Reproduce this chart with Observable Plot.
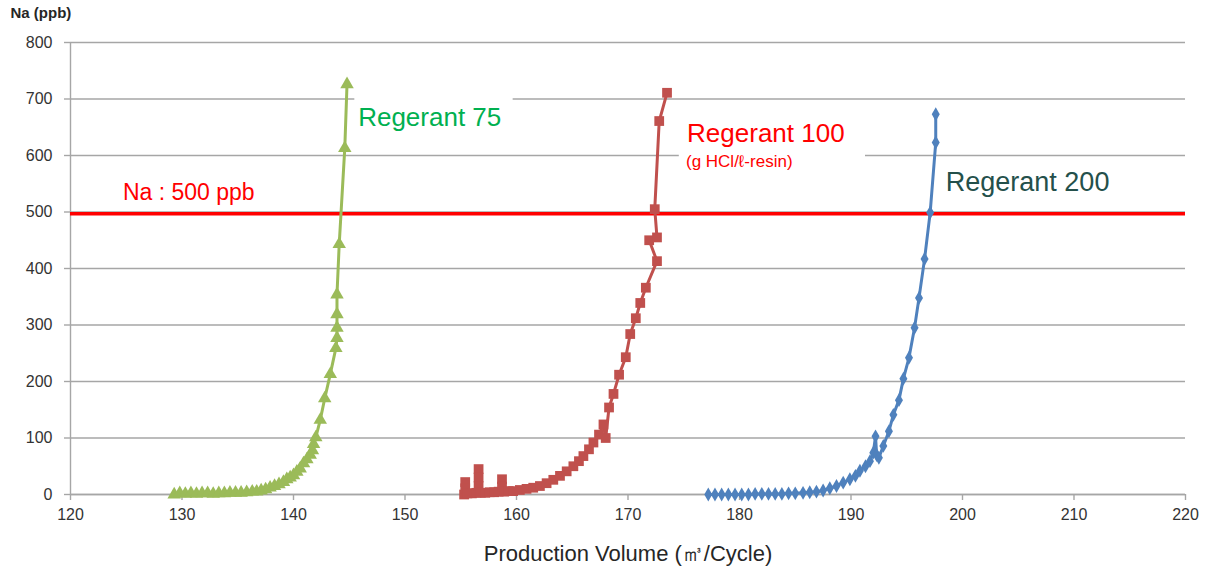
<!DOCTYPE html>
<html><head><meta charset="utf-8">
<script src="https://cdn.jsdelivr.net/npm/d3@7"></script>
<script src="https://cdn.jsdelivr.net/npm/@observablehq/plot@0.6"></script>
<style>html,body{margin:0;padding:0;background:#fff} svg{display:block}</style>
</head><body><div id="chart"></div>
<script>
// Regerant 75 (green, triangles)
const greenX = [129.3,129.8,130.3,130.8,131.3,131.8,132.3,132.8,133.3,133.8,134.3,134.8,135.3,135.8,136.3,136.7,137.1,137.5,137.9,138.3,138.7,139.1,139.4,139.7,140.0,140.3,140.6,140.9,141.2,141.5,141.7,141.8,142.0,142.4,142.8,143.3,143.8,143.9,143.9,143.9,143.9,144.1,144.6,144.8];
const greenY = [0,2,1,2,1,2,2,1,2,2,3,3,3,4,5,5,7,9,12,15,18,22,27,30,34,40,46,55,62,70,78,89,101,132,170,213,259,277,295,319,354,443,613,726];
// Regerant 100 (red, squares)
const redX = [155.3,155.4,155.4,155.6,156.0,156.4,156.6,156.6,156.6,156.8,157.2,157.6,158.0,158.4,158.7,158.7,158.9,159.3,159.7,160.3,160.9,161.5,162.1,162.7,163.3,163.9,164.5,165.1,165.6,166.0,166.5,166.9,167.4,167.8,168.0,168.3,168.7,169.2,169.8,170.2,170.7,171.1,171.6,172.6,171.9,172.6,172.4,172.8,173.5];
const redY = [0,22,11,2,2,3,45,30,15,3,3,4,4,5,27,14,5,6,6,8,10,12,15,20,26,33,41,50,59,68,80,92,106,124,100,154,178,212,243,284,312,339,366,413,450,455,505,661,711];
// Regerant 200 (blue, diamonds)
const blueX = [177.2,177.8,178.4,179.0,179.6,180.2,180.8,181.4,182.0,182.6,183.2,183.8,184.4,185.0,185.7,186.3,186.9,187.5,188.1,188.7,189.3,189.9,190.4,190.8,191.3,191.7,192.0,192.2,192.3,192.5,192.9,193.4,193.8,194.3,194.7,195.2,195.7,196.1,196.6,197.1,197.6,197.6];
const blueY = [0,0,0,0,0,0,0,1,1,1,1,1,2,2,3,4,5,7,11,15,21,27,33,42,50,59,74,103,70,65,86,112,141,167,205,242,295,348,417,499,623,673];

const xTicks = [120,130,140,150,160,170,180,190,200,210,220];
const yTicks = [0,100,200,300,400,500,600,700,800];
const naLimit = 497;

const labelText = ["Regerant 75","Regerant 100","(g HCl/ℓ-resin)","Regerant 200","Na : 500 ppb"];
const labelX = [145.8,175.3,175.2,198.5,124.7];
const labelY = [667,638,590,553,534];
const labelColor = ["#00b050","#ff0000","#ff0000","#24504b","#ff0000"];
const labelSize = [26,26,17,27,23];
const labelSpacing = [0,0,1.2,0,0.3];

// white label backgrounds (data units)
const boxX1 = [145.5,174.6];
const boxX2 = [159.7,191.3];
const boxY1 = [640,565];
const boxY2 = [712,676];

const series = (xs, ys) => xs.map((x,i)=>({x, y: ys[i]}));
const green = series(greenX, greenY);
const red = series(redX, redY);
const blue = series(blueX, blueY);
const labels = labelText.map((t,i)=>({t, x: labelX[i], y: labelY[i], c: labelColor[i], s: labelSize[i], ls: labelSpacing[i]}));
const boxes = boxX1.map((v,i)=>({x1: v, x2: boxX2[i], y1: boxY1[i], y2: boxY2[i]}));

const font = "'Liberation Sans', Arial, sans-serif";
const gridColor = "#a6a6a6";

const chart = Plot.plot({
  width: 1207, height: 571,
  marginLeft: 70, marginRight: 22, marginTop: 42, marginBottom: 77,
  style: {fontFamily: font, background: "#fff", overflow: "visible"},
  x: {domain: [120,220]},
  y: {domain: [0,800]},
  marks: [
    Plot.gridY(yTicks, {stroke: gridColor, strokeOpacity: 1, strokeWidth: 1.4}),
    Plot.rect(boxes, {x1: "x1", x2: "x2", y1: "y1", y2: "y2", fill: "white"}),
    Plot.ruleX([120], {stroke: gridColor, strokeWidth: 1.4}),
    Plot.ruleY([0], {stroke: gridColor, strokeWidth: 1.4}),
    Plot.axisY(yTicks, {tickSize: 6, tickPadding: 12, stroke: gridColor, strokeWidth: 1.4, fill: "#333333", fontSize: 16, label: null}),
    Plot.axisX(xTicks, {tickSize: 6, tickPadding: 8, stroke: gridColor, strokeWidth: 1.4, fill: "#333333", fontSize: 16, label: null}),
    Plot.ruleY([naLimit], {stroke: "#ff0000", strokeWidth: 3.5}),
    Plot.line(green, {x: "x", y: "y", stroke: "#9bbb59", strokeWidth: 3}),
    Plot.dot(green, {x: "x", y: "y", symbol: "triangle", r: 5, fill: "#9bbb59"}),
    Plot.line(red, {x: "x", y: "y", stroke: "#c0504d", strokeWidth: 3}),
    Plot.dot(red, {x: "x", y: "y", symbol: "square", r: 5.5, fill: "#c0504d"}),
    Plot.line(blue, {x: "x", y: "y", stroke: "#4f81bd", strokeWidth: 3}),
    Plot.dot(blue, {x: "x", y: "y", symbol: "diamond", r: 4.2, fill: "#4f81bd"}),
    ...labels.map(l => Plot.text([l], {x: "x", y: "y", text: "t", fill: "c", fontSize: l.s, textAnchor: "start", lineAnchor: "middle", fontFamily: font, letterSpacing: l.ls})),
    Plot.text(["Na (ppb)"], {frameAnchor: "top-left", dx: -60, dy: -29, text: d => d, fontSize: 15, fontWeight: "bold", fill: "#262626", textAnchor: "start", lineAnchor: "middle", fontFamily: font}),
    Plot.text(["Production Volume (㎥/Cycle)"], {frameAnchor: "bottom", dy: 59, text: d => d, fontSize: 22, fill: "#262626", lineAnchor: "middle", fontFamily: font})
  ]
});
document.getElementById("chart").append(chart);
</script>
</body></html>
